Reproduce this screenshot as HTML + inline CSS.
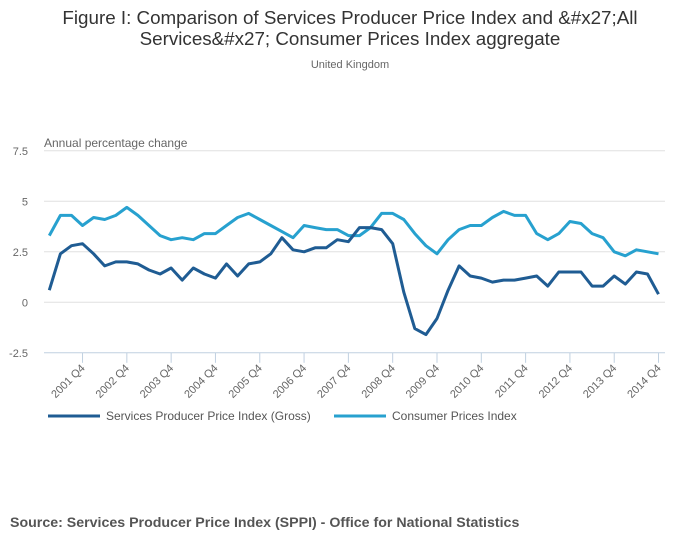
<!DOCTYPE html>
<html><head><meta charset="utf-8"><style>
body{margin:0;background:#fff;font-family:"Liberation Sans","DejaVu Sans",sans-serif;}
#wrap{position:relative;width:700px;height:549px;overflow:hidden;}
</style></head><body>
<div id="wrap">
<svg id="chart" width="700" height="549"></svg>
</div>
<script>
const categories=[];for(let y=2001;y<=2014;y++)for(let q=1;q<=4;q++)categories.push(y+" Q"+q);
const sppiValues=[0.6,2.4,2.8,2.9,2.4,1.8,2.0,2.0,1.9,1.6,1.4,1.7,1.1,1.7,1.4,1.2,1.9,1.3,1.9,2.0,2.4,3.2,2.6,2.5,2.7,2.7,3.1,3.0,3.7,3.7,3.6,2.9,0.5,-1.3,-1.6,-0.8,0.6,1.8,1.3,1.2,1.0,1.1,1.1,1.2,1.3,0.8,1.5,1.5,1.5,0.8,0.8,1.3,0.9,1.5,1.4,0.4];
const cpiValues=[3.3,4.3,4.3,3.8,4.2,4.1,4.3,4.7,4.3,3.8,3.3,3.1,3.2,3.1,3.4,3.4,3.8,4.2,4.4,4.1,3.8,3.5,3.2,3.8,3.7,3.6,3.6,3.3,3.3,3.7,4.4,4.4,4.1,3.4,2.8,2.4,3.1,3.6,3.8,3.8,4.2,4.5,4.3,4.3,3.4,3.1,3.4,4.0,3.9,3.4,3.2,2.5,2.3,2.6,2.5,2.4];
const yTicks=[-2.5,0,2.5,5,7.5];
const yTickLabels=["-2.5","0","2.5","5","7.5"];
const xTickLabels=["2001 Q4","2002 Q4","2003 Q4","2004 Q4","2005 Q4","2006 Q4","2007 Q4","2008 Q4","2009 Q4","2010 Q4","2011 Q4","2012 Q4","2013 Q4","2014 Q4"];

const NS="http://www.w3.org/2000/svg";
const svg=document.getElementById('chart');
function el(tag,attrs,parent){const e=document.createElementNS(NS,tag);for(const k in attrs)e.setAttribute(k,attrs[k]);(parent||svg).appendChild(e);return e;}
const x0=49.3,step=(658.3-82.3)/52;
function xPos(i){return x0+i*step;}
function yPos(v){return 302.3-v*20.2;}
function txt(s,attrs,name){const t=el('text',attrs);t.textContent=s;

return t;}

let t;
t=txt("Figure I: Comparison of Services Producer Price Index and &#x27;All",{x:350,y:24,'text-anchor':'middle','font-size':18.8,fill:'#333'},'chart-title-line1');
t=txt("Services&#x27; Consumer Prices Index aggregate",{x:350,y:45,'text-anchor':'middle','font-size':18.8,fill:'#333'},'chart-title-line2');
t=txt("United Kingdom",{x:350,y:68,'text-anchor':'middle','font-size':11,fill:'#666'},'chart-subtitle');
t=txt("Annual percentage change",{x:44,y:147,'font-size':12,fill:'#666'},'y-axis-title');

yTicks.forEach((v,i)=>{
  if(v>-2.5){const g=el('line',{x1:44,x2:665,y1:yPos(v),y2:yPos(v),stroke:'#e0e0e0','stroke-width':1});
  
  }
  txt(yTickLabels[i],{x:28,y:yPos(v)+4,'text-anchor':'end','font-size':11,fill:'#666'},'y-tick-label');
});
const ax=el('line',{x1:44,x2:665,y1:yPos(-2.5),y2:yPos(-2.5),stroke:'#c0d0e0','stroke-width':1});


xTickLabels.forEach((lab,k)=>{
  const i=categories.indexOf(lab);
  const x=xPos(i);
  const tk=el('line',{x1:x,x2:x,y1:yPos(-2.5),y2:yPos(-2.5)+10,stroke:'#c0d0e0','stroke-width':1});
  
  
  txt(lab,{x:x+3,y:yPos(-2.5)+16,'text-anchor':'end','font-size':11,fill:'#666',transform:`rotate(-45 ${x+3} ${yPos(-2.5)+16})`},'x-tick-label');
});
function line(vals,color,name){
  const d=vals.map((v,i)=>(i?'L':'M')+xPos(i).toFixed(1)+','+yPos(v).toFixed(1)).join('');
  const p=el('path',{d:d,fill:'none',stroke:color,'stroke-width':3,'stroke-linejoin':'round'});
  
  
}
line(cpiValues,'#27a1cf','cpi-line');
line(sppiValues,'#1f5c93','sppi-line');

const l1=el('line',{x1:48,x2:100,y1:416,y2:416,stroke:'#1f5c93','stroke-width':3});


txt("Services Producer Price Index (Gross)",{x:106,y:420,'font-size':12,fill:'#555'},'legend-sppi-label');
const l2=el('line',{x1:334,x2:386,y1:416,y2:416,stroke:'#27a1cf','stroke-width':3});


txt("Consumer Prices Index",{x:392,y:420,'font-size':12,fill:'#555'},'legend-cpi-label');
txt("Source: Services Producer Price Index (SPPI) - Office for National Statistics",{x:10,y:527,'font-size':14.2,'font-weight':'bold',fill:'#555'},'source-note');
</script>
</body></html>
